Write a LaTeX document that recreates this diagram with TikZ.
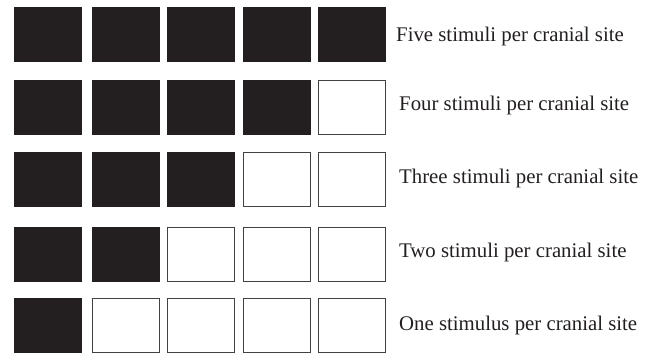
\documentclass[tikz,border=0pt]{standalone}
\usepackage{fontspec}
\setmainfont{Liberation Serif}
\definecolor{ink}{HTML}{231F20}
\begin{document}
\begin{tikzpicture}[x=1pt,y=-1pt,
  cell/.style={draw=ink!85, line width=0.9pt, minimum width=67pt, minimum height=54pt, inner sep=0pt, outer sep=0pt},
  on/.style={cell, fill=ink, draw=ink},
  off/.style={cell, fill=white},
  lab/.style={anchor=base west, inner sep=0pt, font=\fontsize{20.8}{24}\selectfont, text=ink}]
\useasboundingbox (0,0) rectangle (655,353);
\def\cols{48/1,125.5/2,200.5/3,277/4,352/5}
\foreach \yc/\r/\n in {34.5/1/5,107/2/4,179/3/3,254.5/4/2,325/5/1}{
  \foreach \xc/\c in \cols{
    \ifnum\c>\n
      \node[off] (b\r\c) at (\xc,\yc) {};
    \else
      \node[on] (b\r\c) at (\xc,\yc) {};
    \fi
  }
}
\node[lab] (t1) at (396,41.7) {Five stimuli per cranial site};
\node[lab] (t2) at (399,110) {Four stimuli per cranial site};
\node[lab] (t3) at (399,183) {Three stimuli per cranial site};
\node[lab] (t4) at (399,257) {Two stimuli per cranial site};
\node[lab] (t5) at (399,330) {One stimulus per cranial site};
\end{tikzpicture}
\end{document}
